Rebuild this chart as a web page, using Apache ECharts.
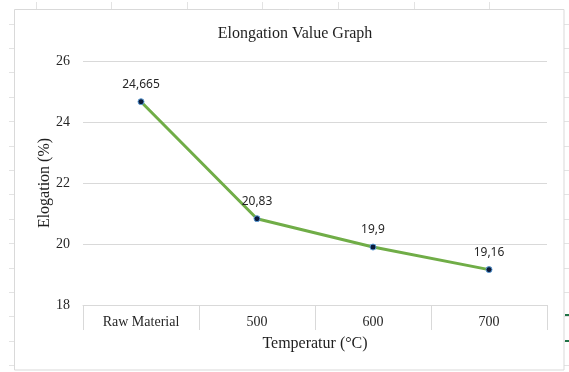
<!DOCTYPE html>
<html>
<head>
<meta charset="utf-8">
<script src="https://cdn.jsdelivr.net/npm/echarts@6/dist/echarts.min.js"></script>
<style>
  html, body { margin: 0; padding: 0; background: #ffffff; }
  #chart { width: 569px; height: 372px; }
</style>
</head>
<body>
<div id="chart"></div>
<script>
// Elongation measured for the raw material and after heat treatment
const categories = ['Raw Material', '500', '600', '700'];
const elongation = [24.665, 20.83, 19.9, 19.16];
const yTicks = { min: 18, max: 26, interval: 2 };

const serif = '"Liberation Serif", "DejaVu Serif", serif';
const sans = '"Noto Sans", "Liberation Sans", sans-serif';
const grey = '#d9d9d9';

// faint worksheet cell lines around the chart frame
const sheet = [];
const colX = [36, 111, 187, 262, 338, 414, 489];
colX.forEach(x => sheet.push({ type: 'line', shape: { x1: x + 0.5, y1: 2, x2: x + 0.5, y2: 9 }, style: { stroke: '#e3e3e3', lineWidth: 1 }, silent: true }));
for (let y = 23.5; y < 372; y += 24.4) {
  const yy = Math.round(y) + 0.5;
  sheet.push({ type: 'line', shape: { x1: 9, y1: yy, x2: 14, y2: yy }, style: { stroke: '#e3e3e3', lineWidth: 1 }, silent: true });
  sheet.push({ type: 'line', shape: { x1: 564, y1: yy, x2: 569, y2: yy }, style: { stroke: '#e3e3e3', lineWidth: 1 }, silent: true });
}
// chart frame
sheet.push({ type: 'rect', shape: { x: 14.5, y: 9.5, width: 549.5, height: 360.5 }, style: { fill: 'none', stroke: grey, lineWidth: 1 }, silent: true });
// selection marks at the right edge
sheet.push({ type: 'rect', shape: { x: 565, y: 314, width: 4, height: 2 }, style: { fill: '#217346' }, silent: true });
sheet.push({ type: 'rect', shape: { x: 565, y: 340, width: 4, height: 2 }, style: { fill: '#217346' }, silent: true });

const chart = echarts.init(document.getElementById('chart'), null, { renderer: 'canvas' });
chart.setOption({
  backgroundColor: '#ffffff',
  animation: false,
  graphic: sheet,
  title: {
    text: 'Elongation Value Graph',
    left: 290,
    textAlign: 'center',
    top: 21,
    textStyle: { fontFamily: serif, fontSize: 16, fontWeight: 'normal', color: '#1f1f1f' }
  },
  grid: { left: 83, right: 22, top: 61, bottom: 67, containLabel: false },
  xAxis: {
    type: 'category',
    data: categories,
    boundaryGap: true,
    name: 'Temperatur (°C)',
    nameLocation: 'middle',
    nameGap: 31,
    nameMoveOverlap: false,
    nameTextStyle: { fontFamily: serif, fontSize: 16, color: '#1f1f1f' },
    axisLine: { lineStyle: { color: grey, width: 1 } },
    axisTick: { show: true, length: 25, alignWithLabel: false, lineStyle: { color: grey, width: 1 } },
    axisLabel: { fontFamily: serif, fontSize: 14, color: '#262626', margin: 10 },
    splitLine: { show: false }
  },
  yAxis: {
    type: 'value',
    min: yTicks.min,
    max: yTicks.max,
    interval: yTicks.interval,
    name: 'Elogation (%)',
    nameLocation: 'middle',
    nameGap: 30,
    nameMoveOverlap: false,
    nameTextStyle: { fontFamily: serif, fontSize: 16, color: '#1f1f1f' },
    axisLine: { show: false },
    axisTick: { show: false },
    axisLabel: { fontFamily: serif, fontSize: 14, color: '#262626', margin: 13 },
    splitLine: { lineStyle: { color: grey, width: 1 } }
  },
  series: [{
    type: 'line',
    data: elongation,
    symbol: 'circle',
    symbolSize: 6,
    lineStyle: { color: '#70ad47', width: 3 },
    itemStyle: { color: '#0b1a3a', borderColor: '#5b9bd5', borderWidth: 1 },
    label: {
      show: true,
      position: 'top',
      distance: 8,
      fontFamily: sans,
      fontSize: 12,
      color: '#262626',
      formatter: p => String(p.value).replace('.', ',')
    },
    z: 3
  }]
});
</script>
</body>
</html>
